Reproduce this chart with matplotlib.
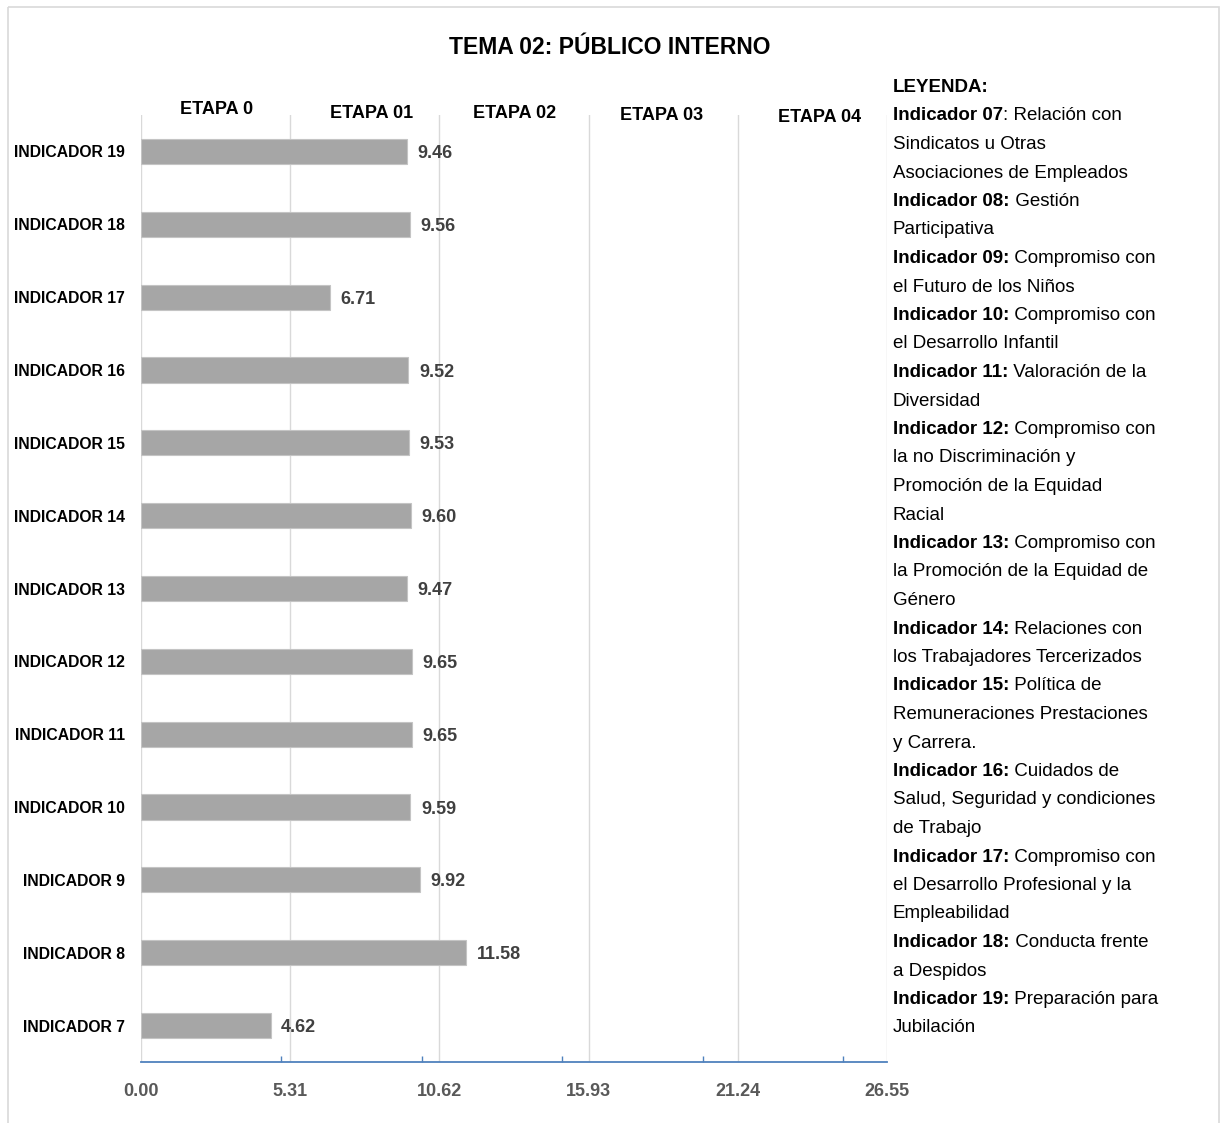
import matplotlib
matplotlib.use("Agg")
import matplotlib.pyplot as plt
from matplotlib.patches import Rectangle

plt.rcParams["font.family"] = ["Liberation Sans", "DejaVu Sans"]

# Datos: indicadores 7..19 (de abajo hacia arriba)
INDICADORES = [f"INDICADOR {n}" for n in range(7, 20)]
VALORES = [4.62, 11.58, 9.92, 9.59, 9.65, 9.65, 9.47, 9.60, 9.53, 9.52, 6.71, 9.56, 9.46]

X_LABELS = [0.00, 5.31, 10.62, 15.93, 21.24, 26.55]
X_MINOR = [5, 10, 15, 20, 25]
ETAPAS = ["ETAPA 0", "ETAPA 01", "ETAPA 02", "ETAPA 03", "ETAPA 04"]

TITULO = "TEMA 02: PÚBLICO INTERNO"
LEYENDA = [
    ("Indicador 07", ": Relación con"),
    ("", "Sindicatos u Otras"),
    ("", "Asociaciones de Empleados"),
    ("Indicador 08:", " Gestión"),
    ("", "Participativa"),
    ("Indicador 09:", " Compromiso con"),
    ("", "el Futuro de los Niños"),
    ("Indicador 10:", " Compromiso con"),
    ("", "el Desarrollo Infantil"),
    ("Indicador 11:", " Valoración de la"),
    ("", "Diversidad"),
    ("Indicador 12:", " Compromiso con"),
    ("", "la no Discriminación y"),
    ("", "Promoción de la Equidad"),
    ("", "Racial"),
    ("Indicador 13:", " Compromiso con"),
    ("", "la Promoción de la Equidad de"),
    ("", "Género"),
    ("Indicador 14:", " Relaciones con"),
    ("", "los Trabajadores Tercerizados"),
    ("Indicador 15:", " Política de"),
    ("", "Remuneraciones Prestaciones"),
    ("", "y Carrera."),
    ("Indicador 16:", " Cuidados de"),
    ("", "Salud, Seguridad y condiciones"),
    ("", "de Trabajo"),
    ("Indicador 17:", " Compromiso con"),
    ("", "el Desarrollo Profesional y la"),
    ("", "Empleabilidad"),
    ("Indicador 18:", " Conducta frente"),
    ("", "a Despidos"),
    ("Indicador 19:", " Preparación para"),
    ("", "Jubilación"),
]

W, H = 1221, 1123
BAR_COLOR = "#A6A6A6"
GRID_COLOR = "#D9D9D9"
AXIS_BLUE = "#4F81BD"

fig = plt.figure(figsize=(W / 100, H / 100), dpi=100)

# capa en pixeles para marco, titulo y leyenda
lay = fig.add_axes([0, 0, 1, 1])
lay.set_xlim(0, W); lay.set_ylim(H, 0); lay.axis("off")
lay.add_patch(Rectangle((8, 7), 1211, H + 10, fill=False, ec=GRID_COLOR, lw=1.2))
lay.text(610, 47, TITULO, ha="center", va="center", fontsize=16.5, fontweight="bold", color="black")

# grafico de barras
left, right, top, bottom = 141, 887, 115, 1062
ax = fig.add_axes([left / W, 1 - bottom / H, (right - left) / W, (bottom - top) / H])
ax.set_zorder(2)
ax.patch.set_alpha(0)
ypos = list(range(len(VALORES)))
ax.barh(ypos, VALORES, height=0.345, color=BAR_COLOR, edgecolor="#C4C4C4", lw=0.8, zorder=3)
for y, v in zip(ypos, VALORES):
    ax.annotate(f"{v:.2f}", (v, y), xytext=(7.5, -1.5), textcoords="offset points",
                ha="left", va="center", fontsize=13, fontweight="bold", color="#404040")

ax.set_xlim(X_LABELS[0], X_LABELS[-1])
ax.set_ylim(-0.5, len(VALORES) - 0.5)
ax.set_xticks(X_LABELS, [f"{x:.2f}" for x in X_LABELS])
ax.set_xticks(X_MINOR, minor=True)
ax.tick_params(axis="x", which="major", length=0, pad=15, labelsize=13, labelcolor="#595959")
for lbl in ax.get_xticklabels():
    lbl.set_fontweight("bold")
ax.tick_params(axis="x", which="minor", direction="in", length=4, width=1, color=AXIS_BLUE)
ax.set_yticks(ypos, INDICADORES)
ax.tick_params(axis="y", length=0, pad=11.5, labelsize=11.3)
for lbl in ax.get_yticklabels():
    lbl.set_fontweight("bold")
ax.grid(axis="x", which="major", color=GRID_COLOR, lw=1, zorder=0)
ax.set_axisbelow(True)
for s in ["top", "right", "left"]:
    ax.spines[s].set_visible(False)
ax.spines["bottom"].set_color(AXIS_BLUE)
ax.spines["bottom"].set_linewidth(1.3)

# cabeceras de etapa sobre las columnas de la rejilla
etapa_x = [217, 372, 515, 662, 820]
etapa_y = [109, 113, 114, 116, 117]
for name, ex, ey in zip(ETAPAS, etapa_x, etapa_y):
    lay.text(ex, ey, name, ha="center", va="center", fontsize=13, fontweight="bold", color="black")

# leyenda con prefijo en negrita
lx, ly0, step = 893, 92, 28.5
lay.text(lx, ly0, "LEYENDA:", ha="left", va="baseline", fontsize=13.5, fontweight="bold")
for i, (neg, resto) in enumerate(LEYENDA):
    yb = ly0 + step * (i + 1)
    if neg:
        t = lay.text(lx, yb, neg, ha="left", va="baseline", fontsize=13.5, fontweight="bold")
        lay.annotate(resto, xy=(1, 0), xycoords=t, ha="left", va="bottom", fontsize=13.5)
    else:
        lay.text(lx, yb, resto, ha="left", va="baseline", fontsize=13.5)

fig.savefig("out.png", dpi=100, facecolor="white")
